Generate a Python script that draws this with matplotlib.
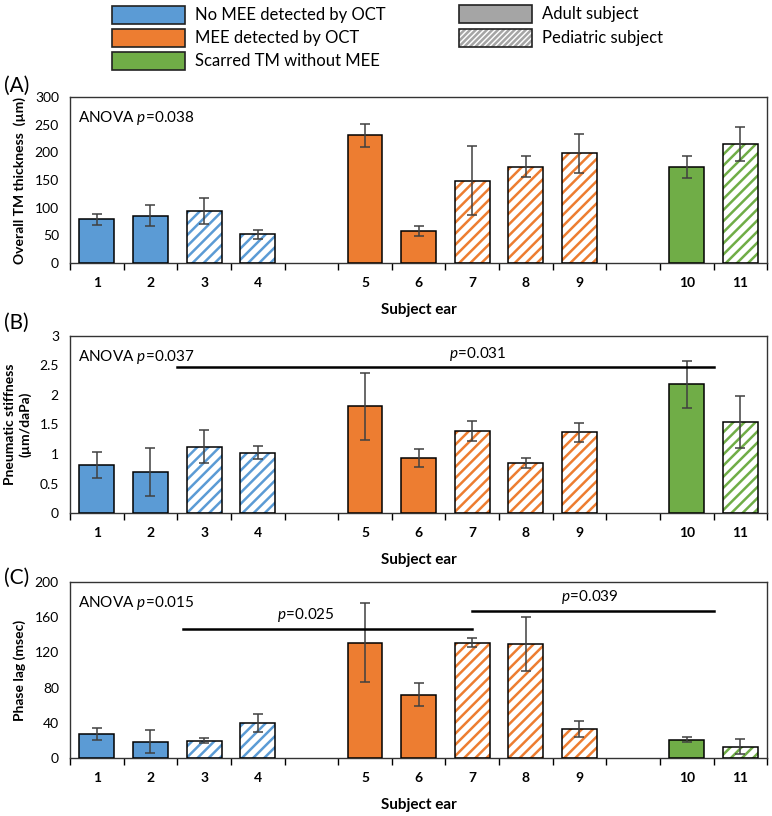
import numpy as np
import matplotlib
matplotlib.use("Agg")
import matplotlib.pyplot as plt
import matplotlib.patches as mpatches

plt.rcParams['font.family'] = ['Lato', 'DejaVu Sans']
plt.rcParams['mathtext.fontset'] = 'custom'
plt.rcParams['mathtext.it'] = 'Lato:italic'
plt.rcParams['mathtext.rm'] = 'Lato'
plt.rcParams['hatch.linewidth'] = 1.8

# subject ears and groups
ears = ['1', '2', '3', '4', '5', '6', '7', '8', '9', '10', '11']
group = ['no', 'no', 'no', 'no', 'mee', 'mee', 'mee', 'mee', 'mee', 'scar', 'scar']
pediatric = [False, False, True, True, False, False, True, True, True, False, True]

thickness = [79, 85, 94, 52, 231, 58, 149, 174, 198, 174, 215]
thickness_err = [10, 19, 24, 8, 21, 9.5, 63, 19, 35, 20, 30]

stiffness = [0.82, 0.69, 1.12, 1.02, 1.81, 0.93, 1.39, 0.85, 1.37, 2.18, 1.55]
stiffness_err = [0.22, 0.41, 0.28, 0.11, 0.57, 0.15, 0.17, 0.09, 0.16, 0.40, 0.44]

phase = [27.5, 18.5, 19.6, 39.6, 131, 72, 131, 129.4, 33, 21, 13]
phase_err = [7, 13, 2.6, 10.5, 45, 13, 5, 31, 9, 3, 9]

colors = {'no': '#5B9BD5', 'mee': '#ED7D31', 'scar': '#70AD47'}

# bar slots: empty slot between groups
slots = []
s = 0
for i, g in enumerate(group):
    if i > 0 and g != group[i - 1]:
        s += 1
    slots.append(s)
    s += 1
nslots = s

panels = [
    dict(tag='(A)', tag_y=86, vals=thickness, err=thickness_err, ylim=300, yticks=np.arange(0, 301, 50),
         ylabel='Overall TM thickness  (µm)', anova='ANOVA $p\\!=\\!0.038$', sig=[],
         rect=[0.0907, 0.6777, 0.903, 0.2034]),
    dict(tag='(B)', tag_y=323, vals=stiffness, err=stiffness_err, ylim=3, yticks=np.arange(0, 3.01, 0.5),
         ylabel='Pneumatic stiffness\n(µm/daPa)', anova='ANOVA $p\\!=\\!0.037$',
         sig=[(1.5, 11.5, 2.47, '$p\\!=\\!0.031$', 7.1)],
         rect=[0.0907, 0.3713, 0.903, 0.217]),
    dict(tag='(C)', tag_y=578, vals=phase, err=phase_err, ylim=200, yticks=np.arange(0, 201, 40),
         ylabel='Phase lag (msec)', anova='ANOVA $p\\!=\\!0.015$',
         sig=[(1.6, 7.0, 147, '$p\\!=\\!0.025$', 3.9), (7.0, 11.5, 167.5, '$p\\!=\\!0.039$', 9.2)],
         rect=[0.0907, 0.0711, 0.903, 0.2157]),
]

fig = plt.figure(figsize=(7.72, 8.16), dpi=100)
W, H = fig.get_size_inches() * fig.dpi

for p in panels:
    ax = fig.add_axes(p['rect'])
    for i in range(len(ears)):
        c = colors[group[i]]
        x = slots[i]
        if pediatric[i]:
            ax.bar(x, p['vals'][i], width=0.65, color='white', edgecolor=c, hatch='///', linewidth=0, zorder=2)
            ax.bar(x, p['vals'][i], width=0.65, fill=False, edgecolor='black', linewidth=1.1, zorder=3)
        else:
            ax.bar(x, p['vals'][i], width=0.65, color=c, edgecolor='black', linewidth=1.1, zorder=3)
    ax.errorbar(slots, p['vals'], yerr=p['err'], fmt='none', ecolor='#404040',
                elinewidth=1.1, capsize=3.5, capthick=1.1, zorder=4)

    ax.set_xlim(-0.5, nslots - 0.5)
    ax.set_ylim(0, p['ylim'])
    ax.set_xticks(slots)
    ax.set_xticklabels(ears, fontweight='bold', fontsize=10)
    ax.set_xticks(np.arange(-0.5, nslots, 1), minor=True)
    ax.tick_params(axis='x', which='major', length=0, pad=10)
    ax.tick_params(axis='x', which='minor', length=5, direction='out', width=1)
    ax.set_yticks(p['yticks'])
    ax.set_yticklabels(['{:g}'.format(round(v, 1)) for v in p['yticks']], fontsize=10)
    ax.tick_params(axis='y', length=0, pad=8)
    ax.set_xlabel('Subject ear', fontweight='bold', fontsize=11, labelpad=10)
    ax.set_ylabel(p['ylabel'], fontweight='bold', fontsize=10, labelpad=6)
    for sp in ax.spines.values():
        sp.set_color('#333333')
        sp.set_linewidth(1)

    ax.text(0.012, 0.93, p['anova'], transform=ax.transAxes, fontsize=11, va='top', ha='left')
    for x0, x1, y, lab, xt in p['sig']:
        ax.plot([x0, x1], [y, y], color='black', lw=1.8, zorder=5)
        ax.text(xt, y + p['ylim'] * 0.025, lab, fontsize=11, ha='center', va='bottom')

    fig.text(4 / W, 1 - p['tag_y'] / H, p['tag'], fontsize=15, ha='left', va='center')

# legend at the top
leg_labels = ['No MEE detected by OCT', 'MEE detected by OCT', 'Scarred TM without MEE',
              'Adult subject', 'Pediatric subject']
leg_faces = [colors['no'], colors['mee'], colors['scar'], '#A5A5A5', 'white']
leg_hatch = [None, None, None, None, '//////']
leg_pos = [(112, 15), (112, 38), (112, 61), (459, 14), (459, 38)]
for lab, fc, h, (px, py) in zip(leg_labels, leg_faces, leg_hatch, leg_pos):
    rect = (px / W, 1 - (py + 8.5) / H)
    if h:
        fig.patches.append(mpatches.Rectangle(rect, 73 / W, 17 / H,
                                              transform=fig.transFigure, facecolor='white',
                                              edgecolor='#A5A5A5', hatch=h, linewidth=0))
    fig.patches.append(mpatches.Rectangle(rect, 73 / W, 17 / H,
                                          transform=fig.transFigure, facecolor=fc if not h else 'none',
                                          edgecolor='#222222', linewidth=1.2))
    fig.text((px + 83) / W, 1 - py / H, lab, fontsize=12, ha='left', va='center')

fig.savefig('out.png', dpi=100)
